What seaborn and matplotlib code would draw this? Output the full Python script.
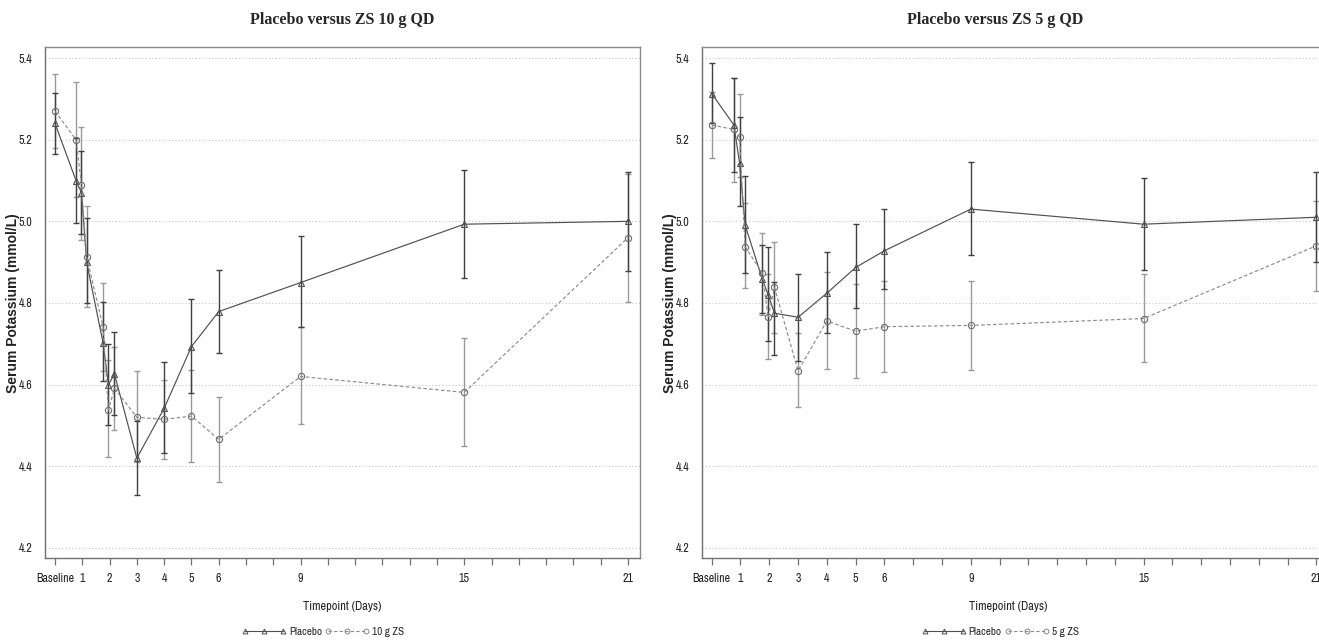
import numpy as np
import pandas as pd
import matplotlib
matplotlib.use("Agg")
import matplotlib.pyplot as plt
import seaborn as sns
from matplotlib import font_manager as fm
from matplotlib.lines import Line2D

# ---------------- data ----------------
days = [0, 0.77, 0.97, 1.16, 1.76, 1.96, 2.18, 3, 4, 5, 6, 9, 15, 21]
tick_days = list(range(22))
tick_text = {0: "Baseline", 1: "1", 2: "2", 3: "3", 4: "4", 5: "5", 6: "6",
             9: "9", 15: "15", 21: "21"}
ytick_vals = [4.2, 4.4, 4.6, 4.8, 5.0, 5.2, 5.4]
ytick_labels = ["4.2", "4.4", "4.6", "4.8", "5.0", "5.2", "5.4"]

# Panel 1: Placebo vs ZS 10 g
pbo_a_mean = [5.24, 5.10, 5.07, 4.90, 4.703, 4.60, 4.626, 4.42, 4.542, 4.693, 4.779, 4.85, 4.993, 5.00]
pbo_a_lo   = [5.165, 4.995, 4.97, 4.80, 4.609, 4.50, 4.526, 4.33, 4.432, 4.579, 4.677, 4.74, 4.862, 4.878]
pbo_a_hi   = [5.315, 5.205, 5.173, 5.008, 4.803, 4.70, 4.73, 4.51, 4.656, 4.81, 4.882, 4.965, 5.126, 5.12]
zs10_mean  = [5.27, 5.20, 5.09, 4.913, 4.742, 4.538, 4.591, 4.52, 4.515, 4.523, 4.466, 4.62, 4.581, 4.96]
zs10_lo    = [5.18, 5.06, 4.954, 4.79, 4.633, 4.424, 4.489, 4.41, 4.417, 4.41, 4.362, 4.504, 4.45, 4.803]
zs10_hi    = [5.362, 5.342, 5.23, 5.038, 4.85, 4.66, 4.693, 4.633, 4.611, 4.636, 4.57, 4.74, 4.714, 5.117]

# Panel 2: Placebo vs ZS 5 g
pbo_b_mean = [5.313, 5.236, 5.142, 4.991, 4.858, 4.82, 4.775, 4.765, 4.824, 4.887, 4.928, 5.03, 4.993, 5.01]
pbo_b_lo   = [5.24, 5.122, 5.038, 4.874, 4.775, 4.708, 4.673, 4.659, 4.726, 4.787, 4.834, 4.918, 4.88, 4.90]
pbo_b_hi   = [5.389, 5.35, 5.256, 5.11, 4.942, 4.938, 4.852, 4.87, 4.924, 4.993, 5.03, 5.145, 5.106, 5.12]
zs5_mean   = [5.236, 5.225, 5.206, 4.938, 4.873, 4.765, 4.838, 4.634, 4.756, 4.731, 4.742, 4.745, 4.762, 4.94]
zs5_lo     = [5.154, 5.097, 5.109, 4.836, 4.77, 4.662, 4.726, 4.546, 4.638, 4.617, 4.632, 4.635, 4.655, 4.83]
zs5_hi     = [5.318, 5.35, 5.312, 5.044, 4.972, 4.87, 4.949, 4.726, 4.875, 4.846, 4.855, 4.853, 4.87, 5.05]

titles = ["Placebo versus ZS 10 g QD", "Placebo versus ZS 5 g QD"]
zs_names = ["10 g ZS", "5 g ZS"]

# ---------------- fonts ----------------
sns.set_theme(style="white")
narrow_path = None
for f in fm.fontManager.ttflist:
    if "Liberation Sans Narrow" in f.name and f.weight in (400, "normal", "regular") and f.style == "normal":
        narrow_path = f.fname
        break
if narrow_path is None:
    for f in fm.fontManager.ttflist:
        fn = f.fname.lower()
        if ("narrow" in fn) and "bold" not in fn and "italic" not in fn:
            narrow_path = f.fname
            break

if narrow_path is not None:
    fm.fontManager.addfont(narrow_path)
    narrow_name = fm.FontProperties(fname=narrow_path).get_name()
    base_family = [narrow_name, "DejaVu Sans"]
    sc = 1.0
else:
    base_family = ["Liberation Sans", "DejaVu Sans"]
    sc = 0.82
plt.rcParams["font.family"] = base_family

tick_fs = 8.6 * sc
xlab_fs = 8.9 * sc
leg_fs = 8.0 * sc

W, H = 1319, 642
fig = plt.figure(figsize=(W / 100, H / 100), dpi=100)
fig.patch.set_facecolor("white")

ax_specs = [
    dict(left=45, right=640, xlim=(-0.366, 21.44), title_x=342, xlabel_x=342, leg_x=323, ylab_x=13),
    dict(left=702, right=1329, xlim=(-0.337, 21.44), title_x=995, xlabel_x=1008, leg_x=1000, ylab_x=670),
]
top_px, bot_px = 47, 558

panels = [
    (pbo_a_mean, pbo_a_lo, pbo_a_hi, zs10_mean, zs10_lo, zs10_hi),
    (pbo_b_mean, pbo_b_lo, pbo_b_hi, zs5_mean, zs5_lo, zs5_hi),
]

pbo_color = "#505050"
zs_color = "#8c8c8c"

for i, (spec, pdata) in enumerate(zip(ax_specs, panels)):
    pm, pl, ph, zm, zl, zh = pdata
    ax = fig.add_axes([spec["left"] / W, 1 - bot_px / H,
                       (spec["right"] - spec["left"]) / W, (bot_px - top_px) / H])
    df = pd.DataFrame({
        "Day": days * 2,
        "Value": pm + zm,
        "Group": ["Placebo"] * len(days) + [zs_names[i]] * len(days),
    })
    ax.yaxis.grid(True, linestyle=(0, (1, 2)), color="#c8c8c8", linewidth=0.8)
    ax.xaxis.grid(False)
    ax.set_axisbelow(True)

    ax.errorbar(days, zm, yerr=[np.array(zm) - np.array(zl), np.array(zh) - np.array(zm)],
                fmt="none", ecolor="#9a9a9a", elinewidth=1.0, capsize=2.4, capthick=1.0, zorder=2)
    ax.errorbar(days, pm, yerr=[np.array(pm) - np.array(pl), np.array(ph) - np.array(pm)],
                fmt="none", ecolor="#404040", elinewidth=1.0, capsize=2.4, capthick=1.0, zorder=2)

    sns.lineplot(data=df[df["Group"] == "Placebo"], x="Day", y="Value", ax=ax,
                 color=pbo_color, marker="^", markersize=4.5, markerfacecolor="none",
                 markeredgecolor=pbo_color, markeredgewidth=0.8, linewidth=0.85,
                 errorbar=None, legend=False, zorder=3)
    sns.lineplot(data=df[df["Group"] == zs_names[i]], x="Day", y="Value", ax=ax,
                 color=zs_color, marker="o", markersize=4.5, markerfacecolor="none",
                 markeredgecolor="#6e6e6e", markeredgewidth=0.8, linewidth=0.85,
                 linestyle=(0, (3, 2)), errorbar=None, legend=False, zorder=3)

    ax.set_xlim(*spec["xlim"])
    ax.set_ylim(4.1754, 5.427)
    ax.set_xticks(tick_days)
    ax.set_xticklabels([tick_text.get(d, "") for d in tick_days], fontsize=tick_fs)
    ax.set_yticks(ytick_vals)
    ax.set_yticklabels(ytick_labels, fontsize=tick_fs)
    ax.tick_params(axis="x", length=5, width=0.9, color="#707070", direction="out", pad=6,
                   bottom=True, labelcolor="#222222")
    ax.tick_params(axis="y", length=0, pad=9, labelcolor="#222222")
    ax.set_xlabel("")
    ax.set_ylabel("")
    for s in ax.spines.values():
        s.set_color("#8a8a8a")
        s.set_linewidth(1.0)
    ax.spines["bottom"].set_color("#707070")
    ax.spines["left"].set_color("#707070")

    fig.text(spec["title_x"] / W, 1 - 20 / H, titles[i], ha="center", va="center",
             fontsize=11.5, fontweight="bold", family=["Liberation Serif", "DejaVu Serif"])
    fig.text(spec["xlabel_x"] / W, 1 - 607 / H, "Timepoint (Days)", ha="center", va="center",
             fontsize=xlab_fs, color="#222222")
    fig.text(spec["ylab_x"] / W, 1 - 303 / H, "Serum Potassium (mmol/L)", ha="center", va="center",
             rotation=90, fontsize=10, fontweight="bold", color="#222222",
             family=["Liberation Sans", "DejaVu Sans"])

    handles = [
        Line2D([], [], color=pbo_color, marker="^", markersize=3.5, markerfacecolor="none",
               linewidth=0.8, markeredgewidth=0.7),
        Line2D([], [], color=zs_color, marker="o", markersize=3.5, markerfacecolor="none",
               linewidth=0.8, markeredgewidth=0.7, linestyle=(0, (3, 2))),
    ]
    fig.legend(handles, ["Placebo", zs_names[i]], loc="center",
               bbox_to_anchor=(spec["leg_x"] / W, 1 - 632 / H), ncol=2, frameon=False,
               fontsize=leg_fs, numpoints=3, handlelength=4.0, handletextpad=0.25,
               columnspacing=0.25, borderpad=0)

fig.savefig("out.png", dpi=100, facecolor="white")
